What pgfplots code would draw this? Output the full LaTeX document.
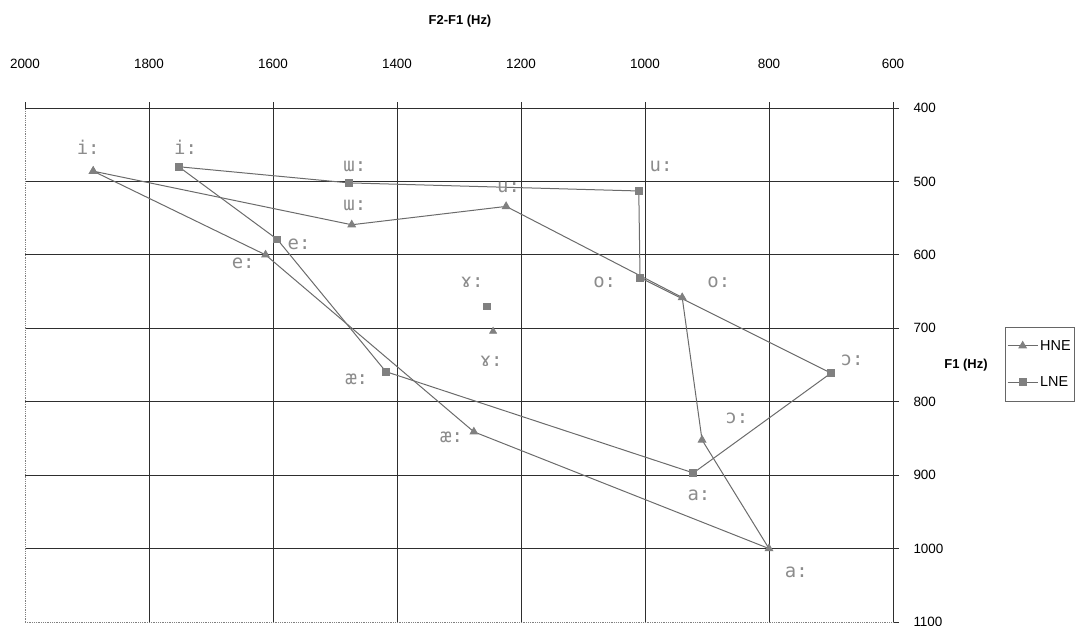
\documentclass[border=0pt]{standalone}
\usepackage{pgfplots}
\pgfplotsset{compat=1.18}
\usepackage{fontspec}
\setmainfont{Liberation Sans}
\newfontfamily\ipafont{DejaVu Sans Mono}
\definecolor{linegray}{gray}{0.42}
\definecolor{markgray}{gray}{0.5}
\definecolor{gridgray}{gray}{0.18}
\definecolor{labgray}{gray}{0.55}
\tikzset{ipalab/.style={font=\ipafont\fontsize{19}{21}\selectfont, text=labgray}}
\begin{document}
\begin{tikzpicture}
\begin{axis}[
  scale only axis, width=868bp, height=514bp,
  x dir=reverse, y dir=reverse,
  xmin=600, xmax=2000, ymin=400, ymax=1100,
  xtick={600,800,...,1800}, extra x ticks={2000}, extra x tick style={grid=none},
  ytick={400,500,...,1000}, extra y ticks={1100}, extra y tick style={grid=none},
  xtick pos=right, ytick pos=right,
  xticklabel pos=right, yticklabel pos=right,
  tick align=outside, major tick length=6bp,
  tick style={gridgray, line width=0.9bp},
  grid=major, major grid style={gridgray, line width=0.9bp},
  axis line style={draw=none},
  /pgf/number format/assume math mode=true,
  /pgf/number format/1000 sep={},
  xticklabel style={anchor=south, yshift=30bp, font=\fontsize{13.5}{16}\selectfont},
  yticklabel style={anchor=west, xshift=11bp, font=\fontsize{13.5}{16}\selectfont},
  legend style={at={(axis description cs:1.129,0.574)}, anchor=north west,
    draw=gray!80!black, font=\fontsize{14.5}{17}\selectfont,
    inner xsep=2bp, inner ysep=11bp, row sep=21bp},
  legend cell align=left,
  legend image code/.code={\draw[mark repeat=2,mark phase=2] plot coordinates {(0bp,0bp)(15bp,0bp)(30bp,0bp)};},
]
\addplot[linegray, line width=1bp, mark=triangle*, mark size=4.2bp,
  mark options={fill=markgray, draw=markgray}] coordinates {
  (1890,486) (1612,600) (1276,841) (800,1000) (908,852) (940,658)
  (1224,534) (1473,559) (1890,486)};
\addlegendentry{HNE}
\addplot[linegray, line width=1bp, mark=square*, mark size=3.4bp,
  mark options={fill=markgray, draw=markgray}] coordinates {
  (1752,480) (1477,502) (1010,513) (1008,631) (700,761) (922,897)
  (1418,759) (1593,579) (1752,480)};
\addlegendentry{LNE}
\addplot[only marks, forget plot, mark=triangle*, mark size=4.2bp,
  mark options={fill=markgray, draw=markgray}] coordinates {(1245,704)};
\addplot[only marks, forget plot, mark=square*, mark size=3.4bp,
  mark options={fill=markgray, draw=markgray}] coordinates {(1255,670)};
\node[ipalab] at (axis cs:1898,453) {i:};
\node[ipalab] at (axis cs:1741,453) {i:};
\node[ipalab] at (axis cs:1468,480) {ɯ:};
\node[ipalab] at (axis cs:1468,533) {ɯ:};
\node[ipalab] at (axis cs:1220,508) {u:};
\node[ipalab] at (axis cs:974,480) {u:};
\node[ipalab] at (axis cs:1558,585) {e:};
\node[ipalab] at (axis cs:1648,611) {e:};
\node[ipalab] at (axis cs:1279,638) {ɤ:};
\node[ipalab] at (axis cs:1248,745) {ɤ:};
\node[ipalab] at (axis cs:1065,638) {o:};
\node[ipalab] at (axis cs:881,638) {o:};
\node[ipalab] at (axis cs:1465,770) {æ:};
\node[ipalab] at (axis cs:1312,848) {æ:};
\node[ipalab] at (axis cs:666,743) {ɔ:};
\node[ipalab] at (axis cs:852,822) {ɔ:};
\node[ipalab] at (axis cs:913,927) {a:};
\node[ipalab] at (axis cs:756,1033) {a:};
\end{axis}
\draw[gray, densely dotted, line width=0.8bp] (0,0) -- (0,514bp);
\draw[gray, densely dotted, line width=0.8bp] (0,0) -- (868bp,0);
\draw[gridgray, line width=0.9bp] (0,514bp) -- (868bp,514bp) -- (868bp,0);
\node[font=\bfseries\fontsize{13}{15}\selectfont] at (435bp,601bp) {F2-F1 (Hz)};
\node[font=\bfseries\fontsize{13}{15}\selectfont] at (941bp,257bp) {F1 (Hz)};
\pgfresetboundingbox
\path[use as bounding box] (-25bp,-4bp) rectangle (1056bp,622bp);
\end{tikzpicture}
\end{document}
